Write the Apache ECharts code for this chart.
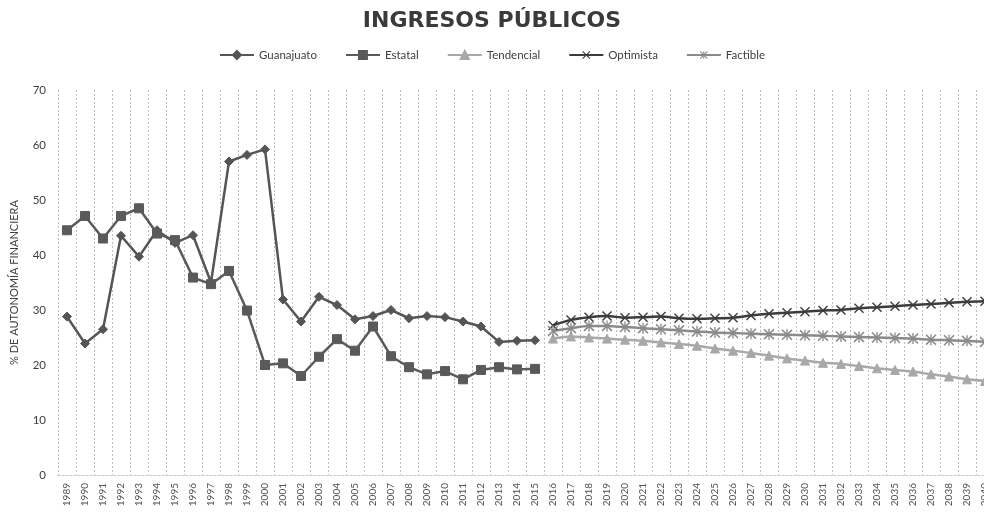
<!DOCTYPE html>
<html>
<head>
<meta charset="utf-8">
<script src="https://cdn.jsdelivr.net/npm/echarts@6/dist/echarts.min.js"></script>
<style>
  html, body { margin: 0; padding: 0; background: #ffffff; }
  #chart { width: 984px; height: 517px; }
</style>
</head>
<body>
<div id="chart"></div>
<script>
// Years on the category axis
const years = [];
for (let y = 1989; y <= 2040; y++) years.push(String(y));

// Historical series, 1989–2015
const guanajuato = [28.8, 23.9, 26.5, 43.5, 39.7, 44.5, 42.2, 43.6, 35.0, 57.0, 58.2, 59.2, 31.9, 27.9,
  32.4, 30.9, 28.3, 28.9, 30.0, 28.5, 28.9, 28.7, 27.9, 27.0, 24.2, 24.4, 24.5];
const estatal = [44.5, 47.1, 43.0, 47.1, 48.5, 43.9, 42.7, 35.9, 34.7, 37.1, 29.9, 20.0, 20.3, 18.0,
  21.5, 24.7, 22.6, 27.0, 21.6, 19.6, 18.3, 18.9, 17.4, 19.1, 19.6, 19.2, 19.3];

// Scenario series, 2016–2040
const tendencial = [24.8, 25.2, 25.0, 24.8, 24.6, 24.4, 24.1, 23.8, 23.5, 23.0, 22.6, 22.2, 21.7,
  21.2, 20.8, 20.4, 20.2, 19.8, 19.4, 19.1, 18.8, 18.3, 17.9, 17.4, 17.1];
const optimista = [27.2, 28.2, 28.7, 28.9, 28.6, 28.7, 28.8, 28.5, 28.4, 28.5, 28.6, 29.0, 29.3,
  29.5, 29.7, 29.9, 30.0, 30.3, 30.5, 30.7, 30.9, 31.1, 31.3, 31.5, 31.6];
const factible = [26.2, 26.7, 27.1, 27.1, 26.9, 26.7, 26.5, 26.3, 26.1, 25.9, 25.8, 25.7, 25.6,
  25.5, 25.4, 25.3, 25.2, 25.1, 25.0, 24.9, 24.8, 24.6, 24.5, 24.4, 24.2];

const yTicks = { min: 0, max: 70, step: 10 };

const histLen = guanajuato.length;
const padNull = n => new Array(n).fill(null);
const asHistory = arr => arr.concat(padNull(years.length - arr.length));
const asScenario = arr => padNull(histLen).concat(arr);

// Marker shapes: an "x" cross and an asterisk (x plus a vertical bar)
const crossPath = 'path://M0,1L1,0L5,4L9,0L10,1L6,5L10,9L9,10L5,6L1,10L0,9L4,5Z';
const starPath = 'path://M0,1L1,0L4.4,3.4L4.4,0L5.6,0L5.6,3.4L9,0L10,1L6,5L10,9L9,10L5.6,6.6L5.6,10L4.4,10L4.4,6.6L1,10L0,9L4,5Z';

const font = 'Lato, "Open Sans", sans-serif';

function lineSeries(name, data, color, symbol, size, smooth, border) {
  return {
    name: name,
    type: 'line',
    data: data,
    smooth: smooth ? 0.3 : false,
    connectNulls: false,
    symbol: symbol,
    symbolSize: size,
    showSymbol: true,
    lineStyle: { color: color, width: 2.5 },
    itemStyle: { color: color, borderColor: color, borderWidth: border },
    emphasis: { disabled: true },
    animation: false
  };
}

const chart = echarts.init(document.getElementById('chart'), null, { renderer: 'canvas' });
chart.setOption({
  backgroundColor: '#ffffff',
  animation: false,
  title: {
    text: 'INGRESOS PÚBLICOS',
    left: 'center',
    top: 5,
    textStyle: { fontFamily: '"DejaVu Sans", sans-serif', fontWeight: 'bold', fontSize: 22, color: '#3a3a3a' }
  },
  legend: {
    top: 44,
    left: 'center',
    itemGap: 28,
    itemWidth: 34,
    itemHeight: 10,
    textStyle: { fontFamily: font, fontSize: 11.5, color: '#404040' },
    data: ['Guanajuato', 'Estatal', 'Tendencial', 'Optimista', 'Factible']
  },
  grid: { left: 58, top: 90, width: 936, height: 385, containLabel: false, outerBoundsMode: 'none' },
  xAxis: {
    type: 'category',
    data: years,
    boundaryGap: true,
    axisLine: { show: true, lineStyle: { color: '#c8c8c8', type: [2, 2] } },
    axisTick: { show: false },
    axisLabel: { rotate: 90, interval: 0, fontFamily: font, fontSize: 10, color: '#505050', margin: 8 },
    splitLine: { show: true, interval: 0, lineStyle: { color: '#bdbdbd', type: [2, 2], width: 1 } }
  },
  yAxis: {
    type: 'value',
    min: yTicks.min,
    max: yTicks.max,
    interval: yTicks.step,
    name: '% DE AUTONOMÍA FINANCIERA',
    nameLocation: 'middle',
    nameGap: 38,
    nameTextStyle: { fontFamily: font, fontSize: 11, color: '#404040' },
    axisLine: { show: false },
    axisTick: { show: false },
    axisLabel: { fontFamily: font, fontSize: 11.5, color: '#404040', margin: 12 },
    splitLine: { show: false }
  },
  series: [
    lineSeries('Guanajuato', asHistory(guanajuato), '#555555', 'diamond', 9, false, 1),
    lineSeries('Estatal', asHistory(estatal), '#5a5a5a', 'rect', 9, false, 1),
    lineSeries('Tendencial', asScenario(tendencial), '#a8a8a8', 'triangle', 9, true, 1),
    lineSeries('Optimista', asScenario(optimista), '#3c3c3c', crossPath, 10, true, 0),
    lineSeries('Factible', asScenario(factible), '#8a8a8a', starPath, 11, true, 0)
  ]
});
</script>
</body>
</html>
